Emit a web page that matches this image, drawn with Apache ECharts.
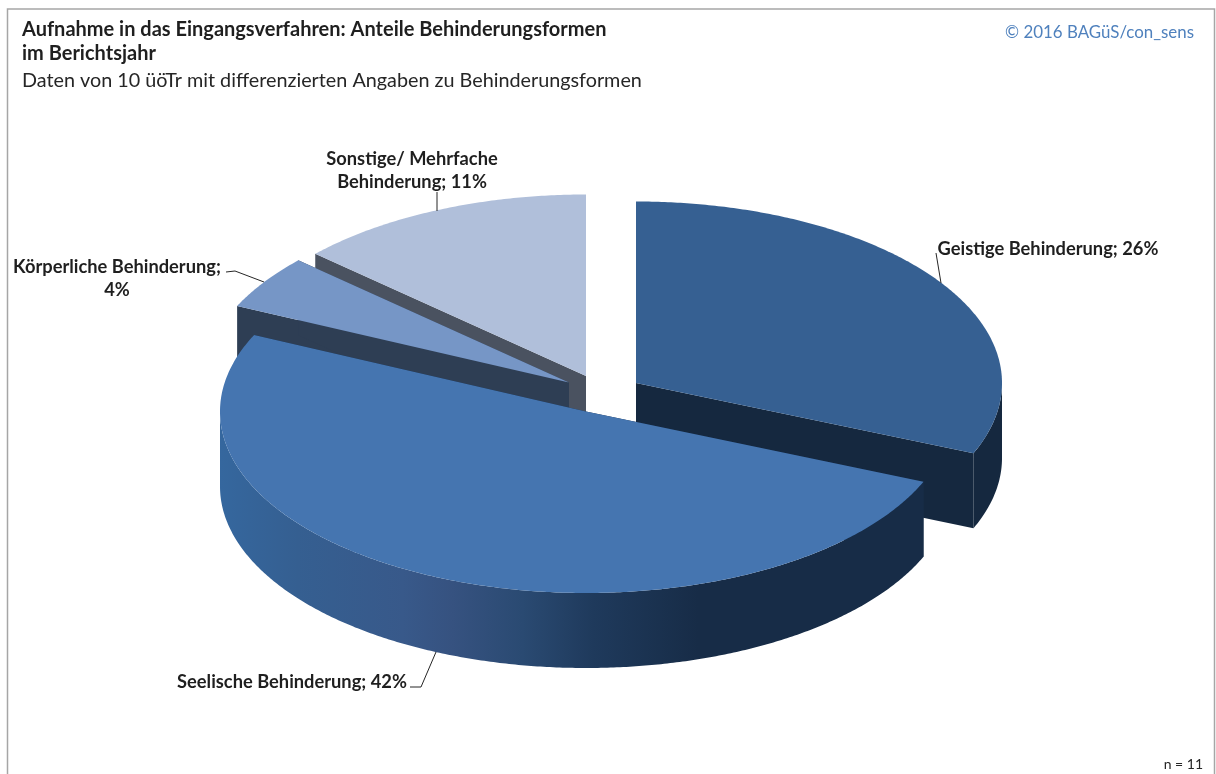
<!DOCTYPE html>
<html><head><meta charset="utf-8">
<style>html,body{margin:0;padding:0;background:#fff}#c{width:1216px;height:774px}</style>
<script src="https://cdn.jsdelivr.net/npm/echarts@6/dist/echarts.min.js"></script>
</head><body><div id="c"></div>
<script>
const categories = ['Geistige Behinderung', 'Seelische Behinderung', 'Körperliche Behinderung', 'Sonstige/ Mehrfache\nBehinderung'];
const values = [26, 42, 4, 11];
const separators = ['; ', '; ', ';\n', '; '];
const titleLines = 'Aufnahme in das Eingangsverfahren: Anteile Behinderungsformen\nim Berichtsjahr';
const subtitle = 'Daten von 10 üöTr mit differenzierten Angaben zu Behinderungsformen';
const copyright = '© 2016 BAGüS/con_sens';
const sampleNote = 'n = 11';

// Presentation only
const RX = 366, RY = 181.5, DEPTH = 75, FONT = 'Lato, "Open Sans", sans-serif';
const apexes = [[636, 383], [586, 411.5], [569, 382.5], [586, 376]];
const tops = ['#366092', '#4575b0', '#7696c6', '#b0bfda'];
const walls = ['#15283f', {type:'linear',x:0,y:0,x2:1,y2:0,colorStops:[
  {offset:0,color:'#35679e'},{offset:.11,color:'#355f91'},{offset:.26,color:'#38598a'},{offset:.33,color:'#365280'},
  {offset:.43,color:'#2a4a72'},{offset:.53,color:'#1f3a5c'},{offset:.68,color:'#172c47'},{offset:1,color:'#172c47'}]},
  '#2e3e54', '#4a5260'];
const order = [2, 3, 1, 0];   // back-to-front painting rank of each slice
const labelPos = [[1048, 249], [292, 682], [117, 279], [412, 171]];
const leaders = [
  [[936, 253], [941, 283]],
  [[410, 687], [421, 687], [436, 652]],
  [[226, 272], [235, 271], [264, 282]],
  [[437, 192], [437, 211]]
];

const total = values.reduce((a, b) => a + b, 0);
const R = Math.PI / 180;

function renderSlice(params, api) {
  const i = params.dataIndex;
  const before = values.slice(0, i).reduce((a, b) => a + b, 0);
  const a0 = before / total * 360, a1 = a0 + api.value(0) / total * 360;
  const [cx, cy] = apexes[i];
  const pt = (deg, dy) => [cx + RX * Math.sin(deg * R), cy - RY * Math.cos(deg * R) + (dy || 0)];
  const arc = (from, to, dy) => {
    const n = Math.max(2, Math.ceil(Math.abs(to - from) * 2)), out = [];
    for (let k = 0; k <= n; k++) out.push(pt(from + (to - from) * k / n, dy));
    return out;
  };
  const base = order[i] * 10;
  const children = [];
  const poly = (points, fill, z2) => children.push({type: 'polygon', z2, shape: {points},
    style: {fill, stroke: null}});
  const flatWall = typeof walls[i] === 'string' ? walls[i] : '#172c47';
  [a0, a1].forEach(a => {
    const e = pt(a);
    poly([[cx, cy], e, [e[0], e[1] + DEPTH], [cx, cy + DEPTH]], flatWall, base);
  });
  const w0 = Math.max(a0, 90), w1 = Math.min(a1, 270);
  if (w1 > w0) poly(arc(w0, w1).concat(arc(w1, w0, DEPTH)), walls[i], base + 1);
  poly([[cx, cy]].concat(arc(a0, a1)), tops[i], base + 2);

  children.push({type: 'polyline', z2: 60, shape: {points: leaders[i]},
    style: {stroke: '#262626', lineWidth: 1, fill: null}});
  children.push({type: 'text', z2: 61, style: {
    text: categories[i] + separators[i] + api.value(0) + '%',
    x: labelPos[i][0], y: labelPos[i][1], align: 'center', verticalAlign: 'middle',
    lineHeight: 23, fill: '#1f1f1f', font: 'bold 18.3px ' + FONT}});
  return {type: 'group', children};
}

const chart = echarts.init(document.getElementById('c'), null, {renderer: 'canvas'});
chart.setOption({
  animation: false,
  backgroundColor: '#fff',
  title: [
    {text: titleLines, left: 22, top: 18, padding: 0,
      textStyle: {fontFamily: 'Lato', fontWeight: 'bold', fontSize: 20, lineHeight: 24, color: '#1f1f1f'}},
    {text: subtitle, left: 22, top: 70, padding: 0,
      textStyle: {fontFamily: 'Lato', fontWeight: 'normal', fontSize: 19.8, lineHeight: 22, color: '#262626'}},
    {text: copyright, right: 22, top: 24, padding: 0,
      textStyle: {fontFamily: 'Lato', fontWeight: 'normal', fontSize: 16.9, lineHeight: 18, color: '#4f81bd'}},
    {text: sampleNote, right: 13, top: 756, padding: 0,
      textStyle: {fontFamily: 'Lato', fontWeight: 'normal', fontSize: 14, lineHeight: 16, color: '#262626'}}
  ],
  graphic: [{type: 'rect', silent: true, z: -1, shape: {x: 7.5, y: 9, width: 1207, height: 790},
    style: {fill: null, stroke: '#a6a6a6', lineWidth: 1.5}}],
  series: [{
    type: 'custom', coordinateSystem: 'none', silent: true,
    renderItem: renderSlice,
    data: values.map((v, i) => ({name: categories[i], value: [v]}))
  }]
});
</script></body></html>
